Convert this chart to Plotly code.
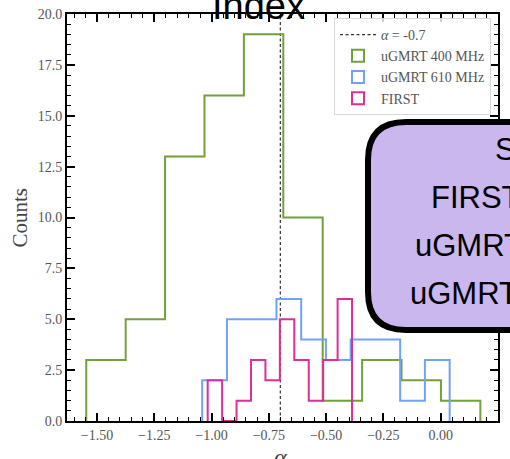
import plotly.graph_objects as go

# ---------------- data ----------------
alpha_ref = -0.7

g400_edges = [-1.547, -1.375, -1.203, -1.031, -0.859, -0.687, -0.515, -0.343, -0.171, 0.001, 0.173]
g400_counts = [3, 5, 13, 16, 19, 10, 1, 3, 2, 1]

g610_edges = [-1.041, -0.933, -0.825, -0.717, -0.609, -0.501, -0.393, -0.285, -0.177, -0.069, 0.039]
g610_counts = [2, 5, 5, 6, 4, 3, 4, 4, 1, 3]

first_edges = [-1.017, -0.954, -0.891, -0.828, -0.765, -0.702, -0.639, -0.576, -0.513, -0.450, -0.387]
first_counts = [2, 0, 1, 3, 2, 5, 3, 1, 3, 6]

series_names = ["uGMRT 400 MHz", "uGMRT 610 MHz", "FIRST"]
box_lines = ["Spectral Index", "FIRST", "uGMRT 610 MHz", "uGMRT 400 MHz"]

# ---------------- styling ----------------
W, H = 510, 459
ML, MR, MT, MB = 67, 12, 14, 38
PW, PH = W - ML - MR, H - MT - MB

GREEN = "#72a03a"
BLUE = "#6fa3f7"
PINK = "#dc2f98"
SERIF = "Liberation Serif, Times New Roman, serif"
SANS = "Liberation Sans, Arial, sans-serif"


def px(x):
    return (x - ML) / PW


def py(y):
    return (H - MB - y) / PH


def step_xy(edges, counts):
    xs = [edges[0]] + list(edges[:-1]) + [edges[-1], edges[-1]]
    ys = [0] + list(counts) + [counts[-1], 0]
    return xs, ys


fig = go.Figure()

# dashed reference line (first in legend)
fig.add_trace(go.Scatter(
    x=[alpha_ref, alpha_ref], y=[0, 20], mode="lines",
    line=dict(color="#333333", width=1.2, dash="3px,2.5px"),
    name="<i>α</i> = -0.7", showlegend=True))

colors = [GREEN, BLUE, PINK]
# legend-only rectangle entries
for name, c in zip(series_names, colors):
    fig.add_trace(go.Bar(
        x=[None], y=[None], name=name,
        marker=dict(color="rgba(0,0,0,0)", line=dict(color=c, width=2)),
        showlegend=True))

for (edges, counts), c in zip([(g400_edges, g400_counts), (g610_edges, g610_counts),
                               (first_edges, first_counts)], colors):
    xs, ys = step_xy(edges, counts)
    fig.add_trace(go.Scatter(x=xs, y=ys, mode="lines", line=dict(color=c, width=2, shape="hv"),
                             showlegend=False, hoverinfo="skip"))

axis_common = dict(
    showline=True, linewidth=2, linecolor="black", mirror="ticks",
    ticks="inside", ticklen=8, tickwidth=1.5, tickcolor="black",
    showgrid=False, zeroline=False,
    tickfont=dict(family=SERIF, size=14, color="#555555"),
)

fig.update_xaxes(range=[-1.631, 0.25], dtick=0.25, tick0=0, tickformat=".2f",
                 minor=dict(ticks="inside", ticklen=4, tickwidth=1.2, tickcolor="black", dtick=0.05, tick0=0),
                 **axis_common)
fig.update_yaxes(range=[0, 20], dtick=2.5, tick0=0, tickformat=".1f",
                 minor=dict(ticks="inside", ticklen=4, tickwidth=1.2, tickcolor="black", dtick=0.5, tick0=0),
                 **axis_common)

# rounded purple box (extends past the right edge)
L, T, B, R, r = 368, 122, 330, 820, 38
path = (f"M {px(L)},{py(T + r)} Q {px(L)},{py(T)} {px(L + r)},{py(T)} "
        f"L {px(R)},{py(T)} L {px(R)},{py(B)} L {px(L + r)},{py(B)} "
        f"Q {px(L)},{py(B)} {px(L)},{py(B - r)} Z")
fig.add_shape(type="path", path=path, xref="paper", yref="paper", layer="above",
              fillcolor="rgb(201,183,237)", line=dict(color="black", width=6))

annotations = []
for txt, x0, yc in zip(box_lines, [493, 429, 413, 408], [149, 197, 245, 293]):
    annotations.append(dict(text=txt, x=px(x0), y=py(yc), xref="paper", yref="paper",
                            xanchor="left", yanchor="middle", showarrow=False,
                            font=dict(family=SANS, size=31, color="black")))

# title (cut off at top)
annotations.append(dict(text="Index", x=px(258.5), y=py(6), xref="paper", yref="paper",
                        xanchor="center", yanchor="middle", showarrow=False,
                        font=dict(family=SANS, size=38, color="black")))
# axis titles
annotations.append(dict(text="Counts", x=px(19), y=py(217.5), xref="paper", yref="paper",
                        xanchor="center", yanchor="middle", showarrow=False, textangle=-90,
                        font=dict(family=SERIF, size=21, color="#444444")))
annotations.append(dict(text="<i>α</i>", x=px(280), y=py(457), xref="paper", yref="paper",
                        xanchor="center", yanchor="middle", showarrow=False,
                        font=dict(family=SERIF, size=24, color="#444444")))

fig.update_layout(
    width=W, height=H, margin=dict(l=ML, r=MR, t=MT, b=MB, autoexpand=False),
    paper_bgcolor="white", plot_bgcolor="white",
    annotations=annotations,
    legend=dict(x=px(491), y=py(18), xanchor="right", yanchor="top",
                bgcolor="rgba(255,255,255,0.8)", bordercolor="#d8d8d8", borderwidth=1,
                font=dict(family=SERIF, size=14, color="#555555"),
                itemwidth=36, tracegroupgap=0),
    showlegend=True,
)

fig.write_html("out.html", include_plotlyjs=True, config={"displayModeBar": False})
